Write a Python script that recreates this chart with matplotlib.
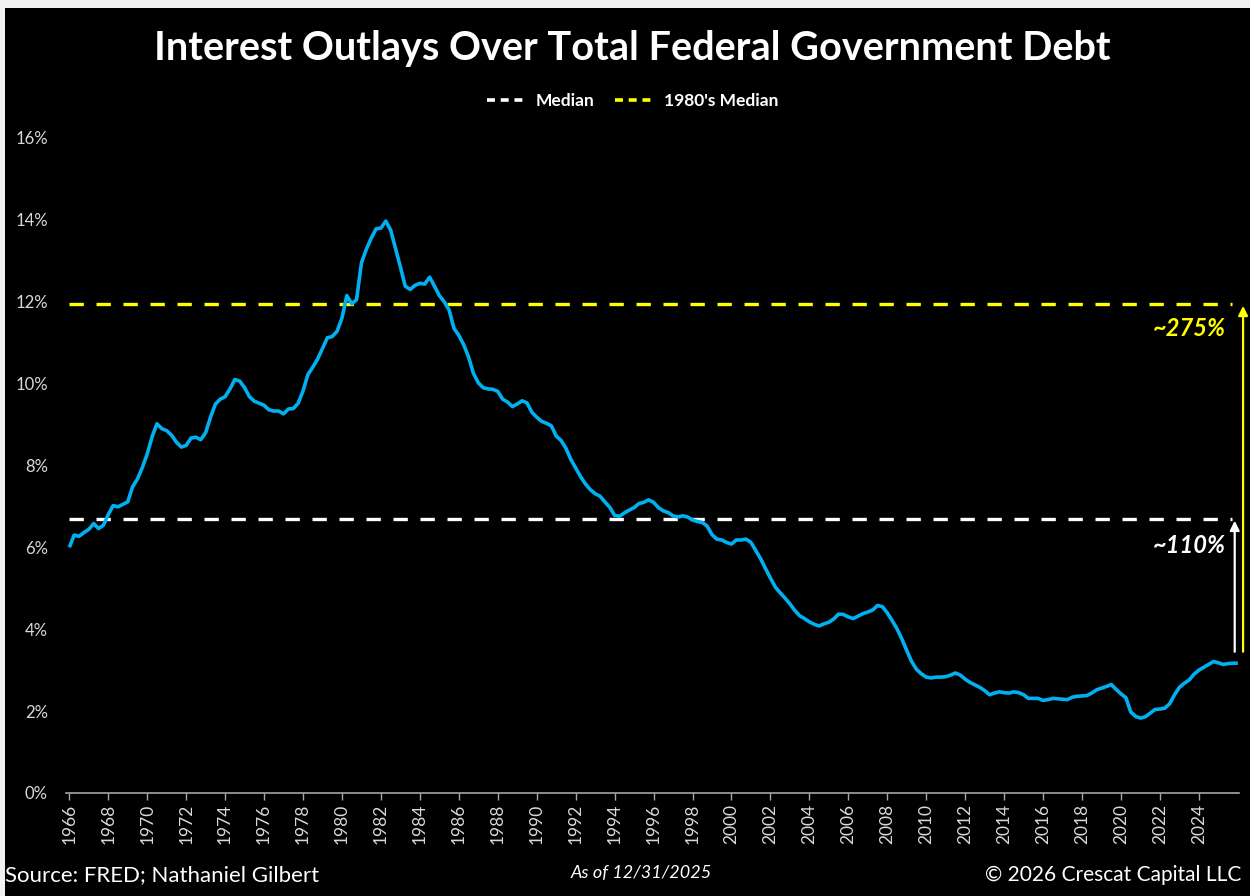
import numpy as np
import pandas as pd
import matplotlib
matplotlib.use("Agg")
import matplotlib.pyplot as plt
from matplotlib.lines import Line2D
from matplotlib.patches import Rectangle

# quarterly readings, 1966 Q1 .. 2026 Q1 (percent)
start_year = 1966
interest_pct = [
    6.00, 6.30, 6.27, 6.36,   # 1966
    6.44, 6.58, 6.46, 6.54,   # 1967
    6.80, 7.02, 6.99, 7.05,   # 1968
    7.11, 7.48, 7.67, 7.95,   # 1969
    8.28, 8.70, 9.02, 8.90,   # 1970
    8.85, 8.74, 8.57, 8.45,   # 1971
    8.49, 8.67, 8.69, 8.63,   # 1972
    8.80, 9.18, 9.50, 9.62,   # 1973
    9.68, 9.87, 10.10, 10.06,  # 1974
    9.90, 9.68, 9.57, 9.52,   # 1975
    9.47, 9.36, 9.33, 9.33,   # 1976
    9.26, 9.38, 9.39, 9.52,   # 1977
    9.82, 10.22, 10.40, 10.60,  # 1978
    10.86, 11.12, 11.15, 11.28,  # 1979
    11.60, 12.15, 11.95, 12.05,  # 1980
    12.95, 13.28, 13.55, 13.78,  # 1981
    13.80, 13.97, 13.75, 13.30,  # 1982
    12.85, 12.38, 12.30, 12.40,  # 1983
    12.45, 12.43, 12.60, 12.38,  # 1984
    12.15, 12.00, 11.80, 11.35,  # 1985
    11.18, 10.95, 10.65, 10.25,  # 1986
    10.02, 9.90, 9.87, 9.86,  # 1987
    9.81, 9.62, 9.55, 9.44,   # 1988
    9.50, 9.58, 9.53, 9.30,   # 1989
    9.18, 9.08, 9.03, 8.97,   # 1990
    8.72, 8.61, 8.42, 8.15,   # 1991
    7.94, 7.73, 7.55, 7.41,   # 1992
    7.31, 7.25, 7.11, 6.98,   # 1993
    6.78, 6.76, 6.84, 6.91,   # 1994
    6.97, 7.07, 7.10, 7.16,   # 1995
    7.10, 6.97, 6.89, 6.85,   # 1996
    6.77, 6.74, 6.77, 6.74,   # 1997
    6.67, 6.63, 6.61, 6.52,   # 1998
    6.31, 6.20, 6.18, 6.12,   # 1999
    6.08, 6.18, 6.18, 6.20,   # 2000
    6.12, 5.92, 5.72, 5.48,   # 2001
    5.25, 5.03, 4.89, 4.76,   # 2002
    4.62, 4.46, 4.33, 4.26,   # 2003
    4.18, 4.12, 4.08, 4.13,   # 2004
    4.17, 4.25, 4.37, 4.36,   # 2005
    4.30, 4.26, 4.32, 4.38,   # 2006
    4.42, 4.47, 4.58, 4.55,   # 2007
    4.40, 4.21, 4.01, 3.76,   # 2008
    3.48, 3.21, 3.02, 2.91,   # 2009
    2.83, 2.81, 2.83, 2.83,   # 2010
    2.84, 2.88, 2.93, 2.88,   # 2011
    2.78, 2.70, 2.64, 2.58,   # 2012
    2.50, 2.40, 2.44, 2.47,   # 2013
    2.45, 2.44, 2.47, 2.45,   # 2014
    2.40, 2.31, 2.31, 2.31,   # 2015
    2.26, 2.28, 2.31, 2.30,   # 2016
    2.29, 2.28, 2.34, 2.36,   # 2017
    2.37, 2.38, 2.44, 2.52,   # 2018
    2.56, 2.60, 2.65, 2.53,   # 2019
    2.42, 2.33, 1.98, 1.87,   # 2020
    1.83, 1.86, 1.95, 2.04,   # 2021
    2.05, 2.07, 2.18, 2.40,   # 2022
    2.58, 2.68, 2.76, 2.90,   # 2023
    3.00, 3.07, 3.14, 3.21,   # 2024
    3.18, 3.14, 3.16, 3.17,   # 2025
    3.17,                     # 2026
]
median_all = 6.70
median_1980s = 11.95
label_all = "~110%"
label_1980s = "~275%"
year_ticks = list(range(1966, 2025, 2))
pct_ticks = [0, 2, 4, 6, 8, 10, 12, 14, 16]

years = start_year + np.arange(len(interest_pct)) / 4.0

BLUE = "#00B0F0"
YELLOW = "#FFFF00"
GREY = "#D9D9D9"
FONT = "Lato"

fig = plt.figure(figsize=(12.5, 8.96), dpi=100, facecolor="black")
ax = fig.add_axes([0.0528, 0.115, 0.9384, 0.731], facecolor="black")

ax.plot(years, interest_pct, color=BLUE, lw=2.6, solid_joinstyle="round",
        solid_capstyle="butt", zorder=3)

ax.hlines(median_all, years[0], 2025.72, colors="white", lw=2.4,
          linestyles=(0, (4.3, 3.8)), zorder=2)
ax.hlines(median_1980s, years[0], 2025.72, colors=YELLOW, lw=2.4,
          linestyles=(0, (4.3, 3.8)), zorder=2)

# arrows from the latest reading up to each median
ax.annotate("", xy=(2025.84, median_all - 0.05), xytext=(2025.84, 3.45),
            arrowprops=dict(arrowstyle="-|>", color="white", lw=1.6,
                            mutation_scale=14, shrinkA=0, shrinkB=0),
            annotation_clip=False)
ax.annotate("", xy=(2026.27, median_1980s - 0.05), xytext=(2026.27, 3.45),
            arrowprops=dict(arrowstyle="-|>", color=YELLOW, lw=1.6,
                            mutation_scale=14, shrinkA=0, shrinkB=0),
            annotation_clip=False)
ax.text(2025.39, median_1980s - 0.6, label_1980s, color=YELLOW, fontsize=17,
        fontweight="bold", style="italic", ha="right", va="center", family=FONT)
ax.text(2025.39, median_all - 0.65, label_all, color="white", fontsize=17,
        fontweight="bold", style="italic", ha="right", va="center", family=FONT)

ax.set_xlim(1965.83, 2026.06)
ax.set_ylim(0, 16)
ax.set_xticks(year_ticks)
ax.set_xticklabels([str(y) for y in year_ticks], rotation=90, family=FONT,
                   fontsize=12.5, color=GREY)
ax.set_yticks(pct_ticks)
ax.set_yticklabels([f"{p}%" for p in pct_ticks], family=FONT, fontsize=12, color=GREY)
ax.tick_params(axis="x", length=5, width=1, color="#A6A6A6", pad=3)
ax.tick_params(axis="y", length=0, pad=13)
for side in ["top", "right", "left"]:
    ax.spines[side].set_visible(False)
ax.spines["bottom"].set_color("#A6A6A6")
ax.spines["bottom"].set_linewidth(1.2)

fig.text(0.506, 0.946, "Interest Outlays Over Total Federal Government Debt",
         color="white", fontsize=28.5, fontweight="bold", ha="center", va="center",
         family=FONT)

handles = [Line2D([], [], color="white", lw=2.6, linestyle=(0, (2.2, 1.6))),
           Line2D([], [], color=YELLOW, lw=2.6, linestyle=(0, (2.2, 1.6)))]
leg = fig.legend(handles, ["Median", "1980's Median"], loc="center",
                 bbox_to_anchor=(0.506, 0.887), ncol=2, frameon=False,
                 handlelength=2.2, columnspacing=1.2, handletextpad=0.6,
                 prop=dict(family=FONT, weight="bold", size=12.5))
for t in leg.get_texts():
    t.set_color("white")

fig.text(0.004, 0.012, "Source: FRED; Nathaniel Gilbert", color="white",
         fontsize=16, ha="left", va="bottom", family=FONT)
fig.text(0.513, 0.017, "As of 12/31/2025", color="white", fontsize=13,
         style="italic", ha="center", va="bottom", family=FONT)
fig.text(0.993, 0.012, "\u00a9 2026 Crescat Capital LLC", color="white",
         fontsize=15, ha="right", va="bottom", family=FONT)

# light frame of the screenshot along the top and left edges
fig.patches.append(Rectangle((0, 0.991), 1, 0.009, transform=fig.transFigure,
                             facecolor="#F2F2F2", edgecolor="none"))
fig.patches.append(Rectangle((0, 0), 0.004, 1, transform=fig.transFigure,
                             facecolor="#F2F2F2", edgecolor="none"))

fig.savefig("out.png", dpi=100, facecolor="black")
